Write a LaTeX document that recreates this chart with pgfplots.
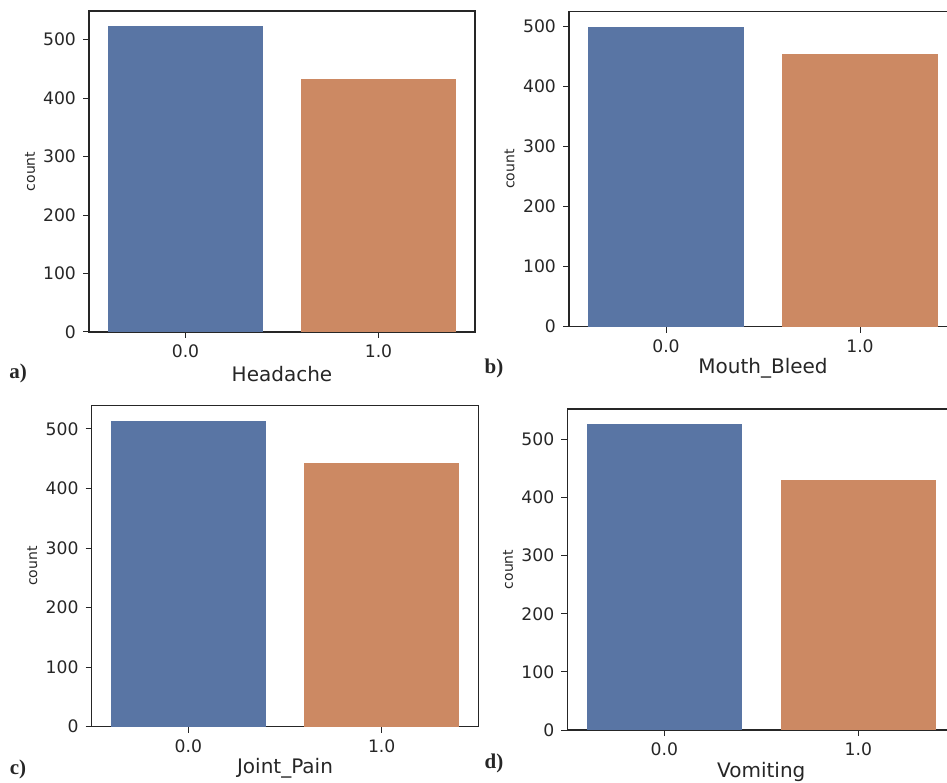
\documentclass[border=0pt]{standalone}
\usepackage{fontspec}
\setmainfont{DejaVu Sans}
\newfontfamily\seriffont{Liberation Serif}
\usepackage{pgfplots}
\pgfplotsset{compat=1.18}
\definecolor{sbblue}{HTML}{5975A4}
\definecolor{sborange}{HTML}{CC8963}
\definecolor{txt}{HTML}{262626}
\pgfplotsset{panel/.style={
  scale only axis, width=193pt, height=160.5pt,
  xmin=-0.5, xmax=1.5, ymin=0,
  xtick={0,1}, xticklabels={0.0,1.0},
  ytick={0,100,200,300,400,500},
  tick pos=left, tick align=outside, major tick length=3pt,
  tick style={txt, line width=0.5pt},
  axis line style={txt, line width=0.55pt},
  ticklabel style={font=\fontsize{8.6}{10}\selectfont, text=txt},
  /pgf/number format/assume math mode=true,
  ylabel=count,
  ylabel style={at={(axis description cs:-0.153,0.5)}, anchor=center, font=\fontsize{7}{8}\selectfont, text=txt},
  xlabel style={at={(axis description cs:0.5,0)}, anchor=center, yshift=-21pt, font=\fontsize{10}{12}\selectfont, text=txt},
}}
\pgfplotstableread{
x y
0 523
1 432
}\headache
\pgfplotstableread{
x y
0 500
1 455
}\mouth
\pgfplotstableread{
x y
0 513
1 442
}\joint
\pgfplotstableread{
x y
0 526
1 430
}\vomit
\newcommand{\bars}[1]{%
  \addplot[ybar, bar width=0.8, bar shift=0pt, fill=sbblue, draw=none] table[x=x,y=y, skip coords between index={1}{2}] {#1};
  \addplot[ybar, bar width=0.8, bar shift=0pt, fill=sborange, draw=none] table[x=x,y=y, skip coords between index={0}{1}] {#1};
}
\begin{document}
\begin{tikzpicture}
\useasboundingbox (0,0) rectangle (473.5pt,391pt);
\clip (0,0) rectangle (473.5pt,391pt);
\begin{axis}[panel, at={(44.5pt,225pt)}, anchor=south west, ymax=549, xlabel=Headache]
\bars{\headache}
\end{axis}
\begin{axis}[panel, at={(284.5pt,227.65pt)}, anchor=south west, width=194pt, height=157.5pt, ymax=525, xlabel=Mouth\_Bleed]
\bars{\mouth}
\end{axis}
\begin{axis}[panel, at={(45.8pt,27.65pt)}, anchor=south west, width=193.4pt, ymax=539, xlabel=Joint\_Pain]
\bars{\joint}
\end{axis}
\begin{axis}[panel, at={(283.65pt,26pt)}, anchor=south west, width=194pt, ymax=552.3, xlabel=Vomiting]
\bars{\vomit}
\end{axis}
\tikzset{lett/.style={font=\seriffont\bfseries\fontsize{10.5}{12}\selectfont, text=txt}}
\node[lett] at (9pt,204.5pt) {a)};
\node[lett] at (247pt,207pt) {b)};
\node[lett] at (9pt,6.5pt) {c)};
\node[lett] at (247pt,9.5pt) {d)};
\end{tikzpicture}
\end{document}
